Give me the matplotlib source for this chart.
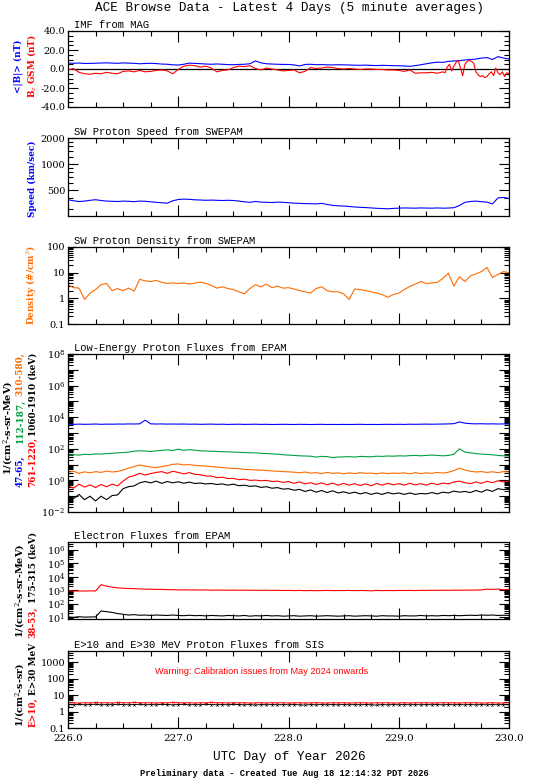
import numpy as np
import matplotlib
matplotlib.use("Agg")
import matplotlib.pyplot as plt
from matplotlib.ticker import FixedLocator, NullFormatter, LogLocator

plt.rcParams['font.family'] = ['DejaVu Serif']
plt.rcParams['mathtext.fontset'] = 'dejavuserif'

W, H = 550, 779
MONO = 'Liberation Mono'

BLUE = '#0000ff'
RED = '#ff0000'
ORANGE = '#ff6a00'
GREEN = '#00a040'

# common time grid, 0.05 day steps (day of year 2026)
day = [226 + 0.05 * i for i in range(81)]

b_total = [6.2, 6.0, 6.3, 5.8, 5.9, 6.1, 6.3, 6.5, 6.2, 6.0,
           6.4, 6.2, 6.0, 5.5, 5.8, 6.0, 5.7, 5.2, 5.0, 4.4,
           4.2, 5.0, 6.2, 5.9, 5.6, 5.2, 5.0, 5.3, 5.0, 4.6,
           4.5, 4.8, 5.0, 5.5, 8.5, 6.5, 5.5, 5.2, 5.0, 4.8,
           4.8, 4.3, 3.2, 4.8, 5.0, 4.5, 4.6, 4.4, 4.3, 4.5,
           4.4, 4.2, 4.0, 3.9, 4.1, 3.8, 3.6, 3.9, 3.7, 3.5,
           3.4, 3.2, 2.8, 3.5, 4.5, 5.5, 6.5, 7.2, 7.0, 8.0,
           8.5, 8.8, 9.5, 10.0, 10.5, 11.5, 12.0, 10.0, 13.0, 11.5,
           10.5]

bz_day = [226 + 0.05 * i for i in range(68)] + \
         [229.40 + 0.02 * i for i in range(31)]
bz = [-1.0, 0.5, -3.5, -5.0, -5.5, -4.5, -5.0, -3.5, -4.5, -5.0,
      -2.5, -2.0, -3.0, -1.5, -3.0, -2.5, -1.5, -1.0, -2.0, -5.0,
      -0.5, 3.0, 4.0, 3.5, 2.0, 3.0, 1.0, -3.0, -1.5, -1.0,
      1.5, 3.0, 2.5, 3.5, 0.5, -1.0, 1.0, 0.0, -1.0, -2.0,
      -1.5, -1.0, -4.0, -2.5, 1.5, 0.5, 1.0, 2.0, 1.5, 0.5,
      0.0, 0.5, 0.0, -0.5, 0.0, 0.0, -0.5, -0.5, -1.0, -1.0,
      -1.5, -2.5, -1.0, -4.5, -4.0, -4.0, -3.5, -4.5,
      -3.0, -4.0, 2.0, 5.0, -2.0, 3.0, 7.0, 9.0, 1.0, -7.0,
      5.0, 8.0, 9.0, 8.0, 6.0, -3.0, -6.0, -8.0, -7.0, -9.0,
      -8.0, -5.0, -3.0, -7.0, 1.0, -4.0, -6.0, -3.0, -8.0, -4.0,
      -5.0]

speed = [386, 375, 368, 372, 380, 386, 378, 372, 370, 368,
         372, 370, 366, 372, 370, 365, 360, 356, 352, 375,
         388, 392, 390, 385, 383, 380, 382, 380, 378, 380,
         378, 372, 365, 360, 368, 362, 360, 358, 362, 360,
         356, 352, 350, 348, 347, 345, 350, 340, 332, 328,
         326, 322, 318, 315, 313, 310, 307, 305, 303, 306,
         308, 310, 309, 308, 310, 309, 308, 310, 308, 309,
         312, 330, 360, 368, 372, 366, 362, 345, 405, 410,
         398]

density = [3.4, 2.6, 2.5, 0.9, 1.6, 2.2, 3.4, 3.8, 2.0, 2.4,
           2.0, 2.5, 1.9, 5.5, 4.8, 4.5, 5.0, 4.2, 3.8, 4.0,
           3.8, 4.0, 3.6, 3.9, 4.3, 3.8, 3.2, 2.5, 2.8, 2.4,
           2.2, 1.8, 1.5, 2.4, 3.4, 2.8, 3.6, 2.6, 3.0, 2.5,
           2.6, 2.3, 2.0, 1.8, 1.6, 2.4, 2.8, 2.0, 1.8, 1.8,
           1.5, 0.9, 2.3, 2.2, 2.0, 1.8, 1.6, 1.4, 1.1, 1.4,
           1.6, 2.2, 2.9, 3.6, 4.5, 3.8, 4.0, 4.2, 6.0, 9.5,
           3.0, 7.0, 4.5, 7.5, 9.0, 11.0, 16.0, 6.5, 8.5, 11.0,
           10.0]

p_47_65 = [3600, 3500, 3650, 3550, 3600, 3700, 3550, 3650, 3600, 3700,
           3650, 3750, 3700, 3800, 6500, 3800, 3700, 3750, 3650, 3700,
           3650, 3700, 3600, 3650, 3550, 3600, 3650, 3550, 3600, 3500,
           3550, 3600, 3500, 3550, 3600, 3500, 3550, 3450, 3500, 3550,
           3500, 3450, 3550, 3500, 3450, 3500, 3550, 3450, 3500, 3450,
           3500, 3450, 3500, 3550, 3450, 3500, 3450, 3500, 3550, 3500,
           3550, 3500, 3600, 3550, 3600, 3650, 3600, 3650, 3700, 3750,
           3900, 5000, 4200, 3900, 3800, 3850, 3750, 3800, 3700, 3750,
           3700]
p_112_187 = [38, 42, 40, 45, 43, 48, 46, 50, 52, 55,
             58, 62, 70, 75, 72, 68, 74, 80, 85, 78,
             95, 80, 88, 82, 75, 72, 70, 68, 66, 64,
             62, 60, 58, 56, 55, 52, 50, 48, 46, 42,
             40, 38, 36, 35, 34, 30, 33, 32, 28, 30,
             31, 32, 30, 33, 32, 31, 34, 33, 35, 34,
             36, 35, 37, 38, 36, 38, 40, 38, 36, 38,
             45, 100, 62, 55, 50, 46, 44, 42, 38, 36,
             35]
p_310_580 = [3.2, 3.8, 2.8, 3.5, 3.0, 3.6, 3.2, 3.9, 3.4, 3.7,
             4.5, 6.0, 7.5, 9.5, 8.0, 7.0, 6.5, 7.5, 8.5, 10.5,
             11.0, 9.5, 10.0, 9.0, 8.5, 8.0, 7.5, 7.0, 6.5, 6.0,
             5.8, 5.5, 5.0, 4.8, 4.6, 4.5, 4.2, 4.0, 3.8, 3.6,
             3.5, 3.3, 3.0, 3.4, 2.9, 3.1, 2.7, 3.2, 2.8, 3.0,
             2.6, 3.0, 2.7, 3.1, 2.8, 2.9, 2.6, 3.0, 2.7, 2.9,
             2.8, 3.0, 2.6, 3.1, 2.7, 3.0, 2.8, 3.2, 2.9, 3.3,
             4.2, 6.0, 4.5, 3.8, 3.4, 3.6, 3.2, 3.5, 3.1, 3.6,
             3.4]
p_761_1220 = [0.45, 0.32, 0.58, 0.38, 0.52, 0.35, 0.55, 0.40, 0.58, 0.45,
              0.90, 1.6, 2.0, 2.8, 2.2, 2.7, 3.2, 3.6, 2.8, 3.8,
              3.2, 2.6, 3.1, 2.4, 2.3, 1.9, 1.9, 1.5, 1.6, 1.3,
              1.35, 1.1, 1.2, 1.0, 1.05, 0.95, 1.0, 0.85, 0.9, 0.75,
              0.85, 0.65, 0.8, 0.6, 0.72, 0.55, 0.7, 0.52, 0.68, 0.5,
              0.65, 0.5, 0.62, 0.48, 0.6, 0.46, 0.64, 0.5, 0.66, 0.52,
              0.62, 0.5, 0.66, 0.52, 0.62, 0.5, 0.67, 0.54, 0.68, 0.6,
              0.8, 0.9, 0.72, 0.62, 0.8, 0.65, 0.88, 0.72, 0.95, 0.8,
              0.95]
p_1060_1910 = [0.11, 0.07, 0.13, 0.06, 0.10, 0.05, 0.10, 0.06, 0.11, 0.12,
               0.30, 0.40, 0.45, 0.70, 0.85, 0.70, 0.90, 0.65, 0.85, 0.70,
               0.82, 0.66, 0.78, 0.64, 0.68, 0.60, 0.64, 0.55, 0.60, 0.50,
               0.58, 0.46, 0.50, 0.42, 0.45, 0.36, 0.40, 0.32, 0.35, 0.28,
               0.30, 0.24, 0.27, 0.20, 0.25, 0.18, 0.23, 0.17, 0.22, 0.16,
               0.19, 0.15, 0.18, 0.14, 0.17, 0.13, 0.16, 0.13, 0.17, 0.14,
               0.16, 0.13, 0.16, 0.13, 0.15, 0.14, 0.17, 0.14, 0.18, 0.16,
               0.21, 0.18, 0.20, 0.17, 0.23, 0.18, 0.26, 0.20, 0.30, 0.26,
               0.32]

e_38_53 = [900, 850, 880, 860, 900, 870, 2600, 2000, 1700, 1500,
           1400, 1350, 1300, 1250, 1200, 1200, 1150, 1150, 1100, 1100,
           1050, 1080, 1040, 1060, 1020, 1050, 1000, 1030, 1010, 1000,
           1020, 990, 1010, 980, 1000, 970, 990, 960, 980, 950,
           970, 940, 960, 930, 950, 920, 940, 960, 930, 950,
           940, 960, 930, 950, 940, 900, 960, 940, 950, 930,
           960, 950, 970, 940, 980, 960, 990, 970, 1000, 980,
           1010, 990, 1020, 1000, 1030, 1050, 1200, 1150, 1200, 1100,
           1150]
e_175_315 = [10.0, 9.5, 10.5, 9.8, 10.0, 10.2, 28, 25, 22, 18,
             16, 14, 15, 13.5, 14, 13, 14, 13.5, 13, 14,
             13, 12.5, 13.5, 12.5, 13, 12, 13, 12.5, 12, 13,
             12.5, 12, 13, 11.5, 12.5, 12, 13, 12, 12.5, 11.5,
             12, 12.5, 11.5, 12, 12.5, 11.5, 12, 12.5, 12, 11.5,
             12, 12.5, 11.5, 12, 12.5, 12, 11.5, 12.5, 12, 12,
             11.5, 12.5, 12, 12, 13, 12, 12.5, 12, 13, 12.5,
             13, 12.5, 13, 13.5, 13, 14, 13.5, 14, 13, 13.5,
             13]

sis_10 = [3.4, 3.5, 3.3, 3.5, 3.4, 3.6, 3.4, 3.5, 3.3, 3.6,
          3.5, 3.4, 3.6, 3.5, 3.4, 3.5, 3.3, 3.5, 3.4, 3.6,
          3.5, 3.4, 3.5, 3.3, 3.5, 3.4, 3.6, 3.4, 3.5, 3.3,
          3.5, 3.4, 3.5, 3.3, 3.4, 3.5, 3.3, 3.5, 3.4, 3.5,
          3.3, 3.4, 3.5, 3.3, 3.4, 3.5, 3.4, 3.3, 3.5, 3.4,
          3.5, 3.3, 3.4, 3.5, 3.4, 3.3, 3.5, 3.4, 3.5, 3.3,
          3.4, 3.5, 3.3, 3.5, 3.4, 3.5, 3.3, 3.4, 3.5, 3.4,
          3.5, 3.3, 3.5, 3.4, 3.5, 3.3, 3.4, 3.5, 3.3, 3.4,
          3.5]
sis_30 = [2.7, 2.6, 2.8, 2.6, 2.7, 2.8, 2.6, 2.7, 2.6, 2.8,
          2.7, 2.6, 2.7, 2.8, 2.6, 2.7, 2.6, 2.8, 2.7, 2.6,
          2.7, 2.8, 2.6, 2.7, 2.6, 2.8, 2.7, 2.6, 2.7, 2.6,
          2.8, 2.7, 2.6, 2.7, 2.5, 2.7, 2.6, 2.7, 2.6, 2.7,
          2.6, 2.7, 2.6, 2.5, 2.7, 2.6, 2.7, 2.6, 2.7, 2.6,
          2.7, 2.6, 2.7, 2.6, 2.7, 2.6, 2.5, 2.7, 2.6, 2.7,
          2.6, 2.7, 2.6, 2.7, 2.6, 2.7, 2.6, 2.7, 2.6, 2.7,
          2.6, 2.7, 2.6, 2.7, 2.6, 2.7, 2.6, 2.7, 2.6, 2.7,
          2.6]

# panel boxes in pixels (top, bottom)
panels = [(31, 107), (138, 216), (247, 324), (354, 512), (542, 619), (651, 728)]
left_px, right_px = 68, 509

fig = plt.figure(figsize=(W / 100, H / 100), dpi=100)
axes = []
for top, bot in panels:
    ax = fig.add_axes([left_px / W, 1 - bot / H, (right_px - left_px) / W, (bot - top) / H])
    axes.append(ax)


def style(ax):
    ax.set_xlim(226, 230)
    ax.xaxis.set_major_locator(FixedLocator([226, 227, 228, 229, 230]))
    ax.xaxis.set_minor_locator(FixedLocator([226 + 0.25 * i for i in range(17)]))
    ax.tick_params(which='both', direction='in', top=True, right=True,
                   width=0.8, labelsize=7, pad=2)
    ax.tick_params(which='major', length=7)
    ax.tick_params(which='minor', length=3.5)
    ax.tick_params(axis='x', which='major', length=8)
    for s in ax.spines.values():
        s.set_linewidth(0.9)
    ax.xaxis.set_major_formatter(NullFormatter())


for ax in axes:
    style(ax)

lw = 0.8

# IMF
ax = axes[0]
ax.axhline(0, color='black', lw=0.9)
ax.plot(day, b_total, color=BLUE, lw=lw)
ax.plot(bz_day, bz, color=RED, lw=lw)
ax.set_ylim(-40, 40)
ax.yaxis.set_major_locator(FixedLocator([-40, -20, 0, 20, 40]))
ax.yaxis.set_minor_locator(FixedLocator(list(range(-40, 41, 5))))
ax.set_yticklabels(['-40.0', '-20.0', '0.0', '20.0', '40.0'])

# speed
ax = axes[1]
ax.plot(day, speed, color=BLUE, lw=lw)
ax.set_yscale('log')
ax.set_ylim(250, 2000)
ax.yaxis.set_major_locator(FixedLocator([500, 1000, 2000]))
ax.yaxis.set_minor_locator(FixedLocator([300, 400, 600, 700, 800, 900, 1200, 1400, 1600, 1800]))
ax.yaxis.set_minor_formatter(NullFormatter())
ax.set_yticklabels(['500', '1000', '2000'])

# density
ax = axes[2]
ax.plot(day, density, color=ORANGE, lw=lw)
ax.set_yscale('log')
ax.set_ylim(0.1, 100)
ax.yaxis.set_major_locator(FixedLocator([0.1, 1, 10, 100]))
ax.yaxis.set_minor_locator(LogLocator(subs=np.arange(2, 10)))
ax.yaxis.set_minor_formatter(NullFormatter())
ax.set_yticklabels(['0.1', '1', '10', '100'])

# low energy protons
ax = axes[3]
for vals, c in [(p_47_65, BLUE), (p_112_187, GREEN), (p_310_580, ORANGE),
                (p_761_1220, RED), (p_1060_1910, 'black')]:
    ax.plot(day, vals, color=c, lw=lw)
ax.set_yscale('log')
ax.set_ylim(1e-2, 1e8)
ax.yaxis.set_major_locator(FixedLocator([10.0 ** k for k in range(-2, 9)]))
ax.yaxis.set_minor_locator(LogLocator(subs=np.arange(2, 10), numticks=20))
ax.yaxis.set_minor_formatter(NullFormatter())
ax.set_yticklabels([r'$10^{%d}$' % k if k % 2 == 0 else '' for k in range(-2, 9)])

# electrons
ax = axes[4]
ax.plot(day, e_38_53, color=RED, lw=lw)
ax.plot(day, e_175_315, color='black', lw=lw)
ax.set_yscale('log')
ax.set_ylim(10 ** 0.85, 10 ** 6.6)
ax.yaxis.set_major_locator(FixedLocator([10.0 ** k for k in range(1, 7)]))
ax.yaxis.set_minor_locator(LogLocator(subs=np.arange(2, 10), numticks=20))
ax.yaxis.set_minor_formatter(NullFormatter())
ax.set_yticklabels([r'$10^{%d}$' % k for k in range(1, 7)])

# SIS
ax = axes[5]
ax.plot(day, sis_10, color=RED, lw=0.7, marker='x', ms=1.6, mew=0.4)
ax.plot(day, sis_30, color='black', lw=0.7, marker='x', ms=1.6, mew=0.4)
ax.set_yscale('log')
ax.set_ylim(0.1, 5000)
ax.yaxis.set_major_locator(FixedLocator([0.1, 1, 10, 100, 1000]))
ax.yaxis.set_minor_locator(LogLocator(subs=np.arange(2, 10), numticks=20))
ax.yaxis.set_minor_formatter(NullFormatter())
ax.set_yticklabels(['0.1', '1', '10', '100', '1000'])
ax.xaxis.set_major_formatter(plt.FuncFormatter(lambda v, p: '%.1f' % v))
ax.tick_params(axis='x', labelsize=7.5, pad=4)
ax.text(0.44, 0.73, 'Warning: Calibration issues from May 2024 onwards',
        transform=ax.transAxes, ha='center', va='center', color=RED,
        fontsize=6.6, family='Liberation Sans')


def ftext(x, y, s, **kw):
    return fig.text(x / W, 1 - y / H, s, **kw)


def vtext(x, y_bottom, s, color, size=6.4):
    # rotated label piece; y_bottom is where the text starts (pixels from top)
    ftext(x, y_bottom, s, rotation=90, ha='center', va='bottom', color=color,
          fontsize=size, fontweight='bold')


ftext(289, 8, 'ACE Browse Data - Latest 4 Days (5 minute averages)',
      ha='center', va='center', fontsize=9.1, family=MONO)

titles = ['IMF from MAG', 'SW Proton Speed from SWEPAM',
          'SW Proton Density from SWEPAM', 'Low-Energy Proton Fluxes from EPAM',
          'Electron Fluxes from EPAM', 'E>10 and E>30 MeV Proton Fluxes from SIS']
for (top, bot), t in zip(panels, titles):
    ftext(74, top - 3, t, ha='left', va='baseline', fontsize=7.6, family=MONO)

ftext(289, 757, 'UTC Day of Year 2026', ha='center', va='center',
      fontsize=9.2, family=MONO)
ftext(284, 773, 'Preliminary data - Created Tue Aug 18 12:14:32 PDT 2026',
      ha='center', va='center', fontsize=6.35, fontweight='bold', family=MONO)

# y labels
vtext(18, 93, '<|B|> (nT)', BLUE)
vtext(32, 98, r'B$_{z}$ GSM (nT)', RED)
vtext(32, 217, 'Speed (km/sec)', BLUE)
vtext(32, 325, r'Density (#/cm$^{3}$)', ORANGE)

vtext(8, 475, r'1/(cm$^{2}$-s-sr-MeV)', 'black', 7.0)
vtext(20, 487, '47-65,', BLUE)
vtext(20, 443, '112-187,', GREEN)
vtext(20, 396, '310-580,', ORANGE)
vtext(33, 487, '761-1220,', RED)
vtext(33, 436, '1060-1910 (keV)', 'black')

vtext(20, 638, r'1/(cm$^{2}$-s-sr-MeV)', 'black', 7.0)
vtext(33, 638, '38-53,', RED)
vtext(33, 603, '175-315 (keV)', 'black')

vtext(20, 727, r'1/(cm$^{2}$-s-sr)', 'black', 6.8)
vtext(33, 727, 'E>10,', RED)
vtext(33, 695, 'E>30 MeV', 'black')

fig.savefig('out.png', dpi=100)
